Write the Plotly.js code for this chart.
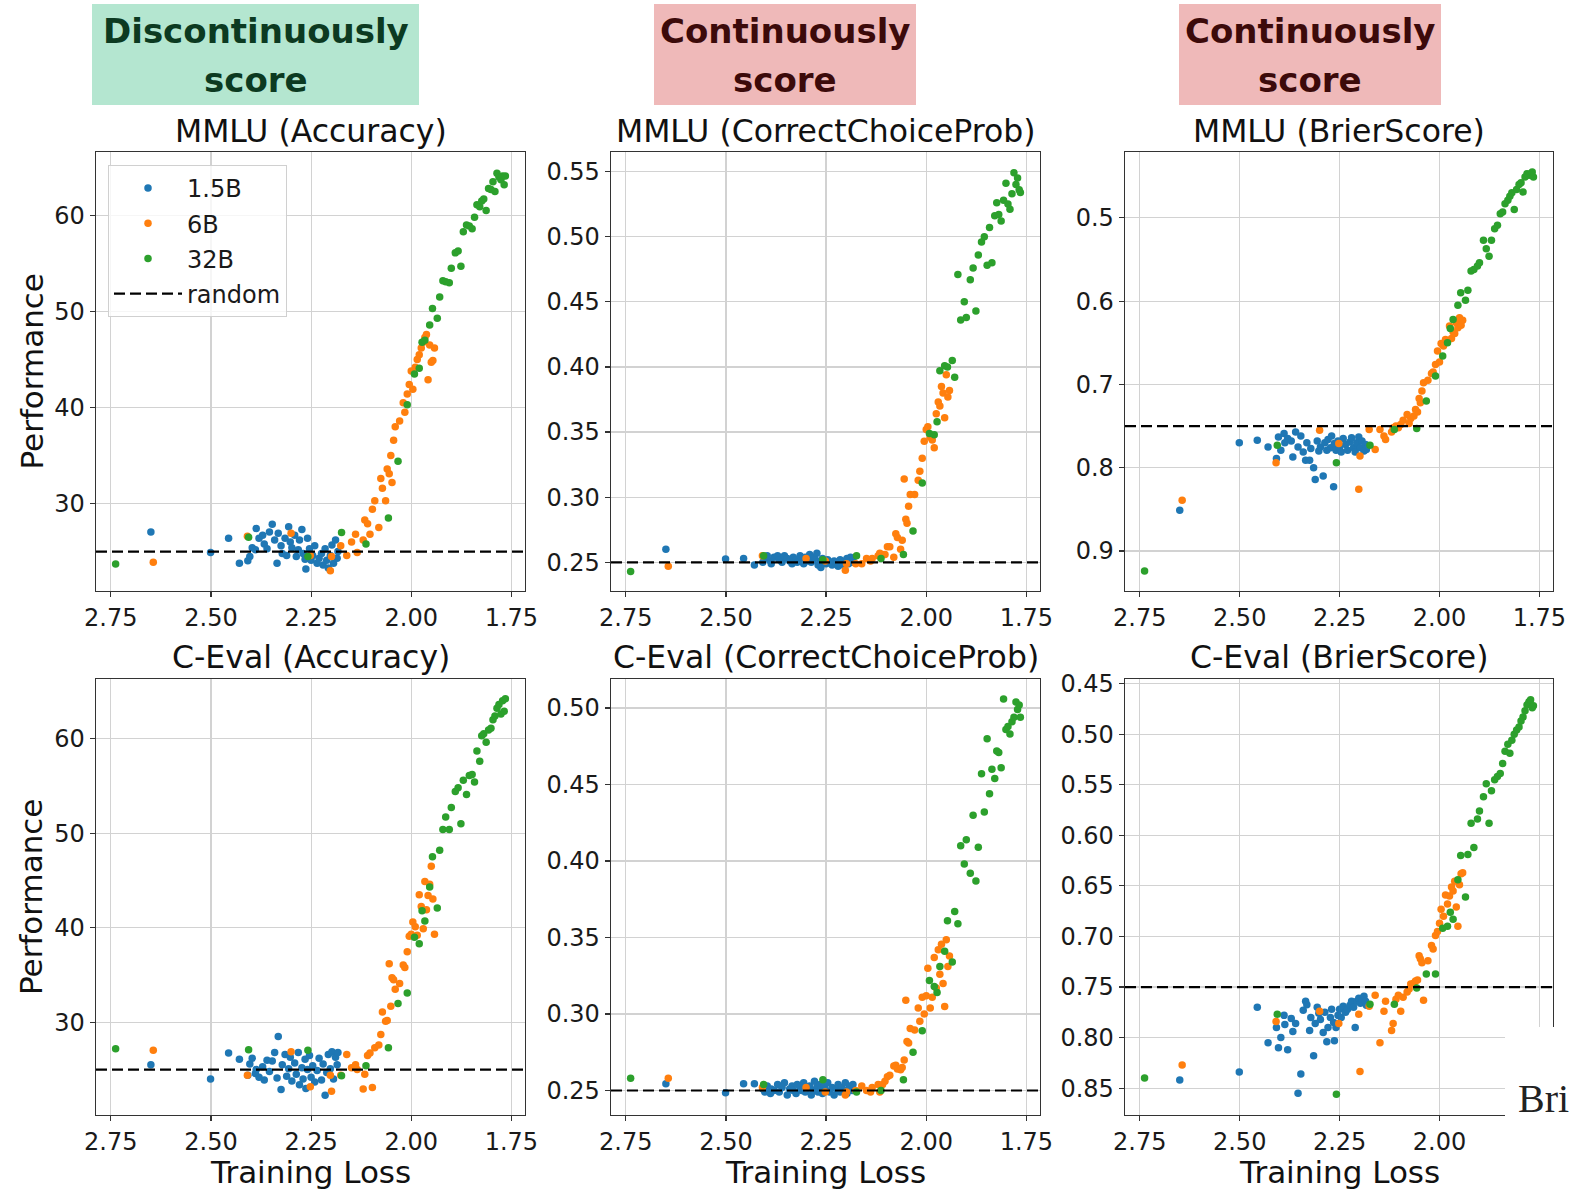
<!DOCTYPE html>
<html><head><meta charset="utf-8">
<script src="https://cdn.plot.ly/plotly-3.0.1.min.js"></script>
<style>html,body{margin:0;padding:0;background:#fff}#chart{width:1570px;height:1192px}</style>
</head><body><div id="chart"></div>
<script>
// ---------- data (training loss of checkpoints, shared by all panels) ----------
const loss15B = [2.650, 2.501, 2.456, 2.429, 2.408, 2.403, 2.397, 2.389, 2.387, 2.380,
 2.371, 2.367, 2.360, 2.354, 2.347, 2.341, 2.335, 2.332, 2.325, 2.322,
 2.315, 2.311, 2.306, 2.302, 2.298, 2.291, 2.287, 2.282, 2.279, 2.273,
 2.270, 2.265, 2.263, 2.259, 2.254, 2.250, 2.246, 2.241, 2.235, 2.230,
 2.224, 2.220, 2.215, 2.211, 2.207, 2.202, 2.198, 2.194, 2.189, 2.185, 2.183];
const loss6B = [2.644, 2.409, 2.300, 2.252, 2.202, 2.199, 2.176, 2.161, 2.149, 2.139,
 2.135, 2.120, 2.116, 2.109, 2.103, 2.097, 2.091, 2.081, 2.076, 2.072,
 2.064, 2.060, 2.055, 2.051, 2.048, 2.044, 2.040, 2.029, 2.020, 2.016,
 2.010, 2.005, 2.000, 1.996, 1.990, 1.985, 1.980, 1.975, 1.970, 1.966,
 1.962, 1.958, 1.954, 1.950, 1.946, 1.942];
const loss32B = [2.738, 2.406, 2.258, 2.174, 2.113, 2.057, 2.033, 2.010, 1.992, 1.980,
 1.973, 1.966, 1.954, 1.947, 1.935, 1.929, 1.921, 1.914, 1.905, 1.900,
 1.890, 1.883, 1.876, 1.870, 1.862, 1.855, 1.848, 1.842, 1.836, 1.829,
 1.824, 1.819, 1.813, 1.807, 1.801, 1.796, 1.791, 1.786, 1.781, 1.776,
 1.772, 1.768, 1.765];

// MMLU (Accuracy)
const mmluAcc15B = [27.05, 24.9, 26.4, 23.8, 24.05, 24.5, 25.4, 25.2, 27.4, 26.4,
 26.7, 25.8, 25.3, 27.05, 27.85, 26.2, 23.8, 26.9, 25.6, 24.8,
 26.4, 24.6, 27.6, 26.0, 25.4, 26.7, 24.5, 25.2, 26.2, 27.3,
 24.8, 24.2, 23.2, 26.4, 25.3, 24.1, 24.6, 25.6, 23.8, 24.3,
 24.8, 23.6, 25.3, 24.1, 23.3, 24.6, 25.7, 23.8, 26.2, 24.3, 25.0];
const mmluAcc6B = [23.9, 26.6, 26.9, 24.6, 23.0, 24.5, 25.6, 24.6, 26.0, 26.8,
 24.9, 26.2, 28.3, 27.9, 26.8, 29.4, 30.3, 27.5, 32.6, 31.6,
 30.3, 33.6, 33.1, 35.0, 32.2, 36.6, 38.0, 38.6, 40.5, 39.5,
 41.4, 42.4, 43.8, 41.9, 44.2, 45.0, 45.5, 46.2, 46.8, 47.3,
 47.6, 42.9, 46.5, 44.7, 44.9, 46.2];
const mmluAcc32B = [23.7, 26.5, 24.5, 27.0, 25.8, 28.5, 34.4, 40.3, 43.5, 44.1,
 46.8, 47.0, 48.6, 50.3, 49.3, 51.5, 53.2, 53.1, 53.0, 54.5,
 56.1, 56.3, 54.7, 58.3, 59.0, 58.9, 58.6, 59.8, 61.1, 60.9,
 61.5, 61.7, 60.5, 62.8, 62.7, 63.5, 62.5, 64.4, 64.0, 63.7,
 64.1, 63.2, 64.1];

// MMLU (CorrectChoiceProb)
const mmluCcp15B = [0.260, 0.2525, 0.253, 0.248, 0.250, 0.253, 0.255, 0.251, 0.249, 0.254,
 0.255, 0.252, 0.250, 0.255, 0.253, 0.251, 0.249, 0.254, 0.252, 0.250,
 0.255, 0.253, 0.249, 0.254, 0.251, 0.256, 0.250, 0.252, 0.254, 0.257,
 0.248, 0.251, 0.246, 0.253, 0.250, 0.249, 0.252, 0.250, 0.248, 0.251,
 0.249, 0.247, 0.252, 0.250, 0.248, 0.251, 0.253, 0.249, 0.254, 0.250, 0.252];
const mmluCcp6B = [0.247, 0.255, 0.253, 0.251, 0.244, 0.249, 0.249, 0.249, 0.253, 0.251,
 0.253, 0.255, 0.257, 0.256, 0.256, 0.262, 0.262, 0.254, 0.272, 0.269,
 0.260, 0.267, 0.314, 0.283, 0.280, 0.293, 0.302, 0.302, 0.313, 0.320,
 0.330, 0.343, 0.352, 0.354, 0.346, 0.344, 0.338, 0.364, 0.373, 0.370,
 0.385, 0.380, 0.361, 0.394, 0.377, 0.382];
const mmluCcp32B = [0.243, 0.255, 0.252, 0.255, 0.253, 0.256, 0.274, 0.311, 0.349, 0.348,
 0.358, 0.397, 0.401, 0.400, 0.405, 0.392, 0.471, 0.436, 0.450, 0.438,
 0.467, 0.476, 0.443, 0.486, 0.496, 0.500, 0.478, 0.507, 0.480, 0.516,
 0.526, 0.517, 0.512, 0.528, 0.541, 0.525, 0.521, 0.533, 0.549, 0.540,
 0.545, 0.536, 0.534];

// MMLU (BrierScore)
const mmluBrier15B = [0.851, 0.770, 0.767, 0.775, 0.789, 0.763, 0.779, 0.759, 0.770, 0.765,
 0.768, 0.787, 0.757, 0.775, 0.762, 0.781, 0.791, 0.770, 0.791, 0.777,
 0.800, 0.814, 0.768, 0.780, 0.775, 0.810, 0.770, 0.779, 0.766, 0.776,
 0.762, 0.823, 0.771, 0.779, 0.768, 0.776, 0.781, 0.765, 0.772, 0.779,
 0.769, 0.764, 0.776, 0.781, 0.770, 0.763, 0.776, 0.768, 0.780, 0.772, 0.778];
const mmluBrier6B = [0.839, 0.794, 0.755, 0.771, 0.826, 0.786, 0.754, 0.778, 0.754, 0.762,
 0.766, 0.757, 0.752, 0.750, 0.752, 0.748, 0.743, 0.736, 0.747, 0.741,
 0.738, 0.730, 0.733, 0.717, 0.722, 0.708, 0.698, 0.695, 0.687, 0.685,
 0.676, 0.660, 0.673, 0.651, 0.654, 0.646, 0.648, 0.630, 0.645, 0.637,
 0.639, 0.626, 0.632, 0.620, 0.629, 0.623];
const mmluBrier32B = [0.924, 0.773, 0.794, 0.773, 0.754, 0.753, 0.720, 0.690, 0.666, 0.650,
 0.633, 0.622, 0.605, 0.590, 0.599, 0.587, 0.564, 0.562, 0.558, 0.554,
 0.527, 0.537, 0.546, 0.527, 0.513, 0.509, 0.495, 0.493, 0.483, 0.479,
 0.474, 0.470, 0.490, 0.466, 0.460, 0.458, 0.469, 0.451, 0.447, 0.449,
 0.447, 0.445, 0.451];

// C-Eval (Accuracy)
const cevalAcc15B = [25.5, 24.0, 26.75, 26.1, 24.4, 25.6, 26.2, 24.6, 25.0, 24.2,
 25.3, 23.9, 26.0, 24.8, 25.9, 26.8, 24.1, 28.5, 22.9, 25.5,
 26.6, 24.3, 25.1, 26.3, 23.8, 25.7, 24.5, 26.8, 23.4, 25.2,
 24.0, 26.1, 23.0, 25.0, 26.5, 24.2, 25.4, 23.7, 24.9, 26.2,
 23.9, 25.6, 22.3, 24.7, 26.6, 25.1, 26.9, 24.0, 26.3, 25.5, 26.8];
const cevalAcc6B = [27.05, 24.4, 26.9, 23.2, 24.4, 22.7, 24.4, 26.6, 25.2, 25.5,
 25.0, 22.95, 24.5, 26.5, 26.75, 23.1, 27.3, 27.6, 28.7, 31.1,
 30.1, 30.2, 36.2, 31.7, 34.7, 34.5, 33.5, 34.1, 36.05, 35.8,
 37.45, 39.1, 39.3, 40.6, 40.1, 39.2, 43.5, 42.25, 39.9, 44.9,
 41.9, 43.4, 44.6, 46.5, 43.05, 39.3];
const cevalAcc32B = [27.2, 27.1, 27.05, 24.35, 25.4, 27.3, 32.0, 33.1, 39.0, 38.3,
 41.8, 40.7, 44.3, 47.5, 42.1, 48.2, 50.4, 51.7, 50.4, 52.7,
 54.4, 54.8, 51.0, 55.6, 54.1, 56.1, 56.2, 55.4, 58.7, 57.6,
 60.3, 60.5, 59.6, 60.9, 61.1, 62.0, 62.4, 63.2, 63.6, 62.6,
 64.0, 62.9, 64.2];

// C-Eval (CorrectChoiceProb)
const cevalCcp15B = [0.2545, 0.2486, 0.2545, 0.2545, 0.251, 0.249, 0.253, 0.248, 0.251, 0.250,
 0.254, 0.249, 0.252, 0.255, 0.247, 0.251, 0.253, 0.250, 0.248, 0.254,
 0.252, 0.250, 0.255, 0.249, 0.251, 0.253, 0.247, 0.250, 0.256, 0.252,
 0.249, 0.254, 0.251, 0.248, 0.253, 0.250, 0.255, 0.249, 0.252, 0.247,
 0.251, 0.254, 0.249, 0.252, 0.250, 0.255, 0.248, 0.251, 0.253, 0.250, 0.254];
const cevalCcp6B = [0.258, 0.252, 0.252, 0.249, 0.247, 0.249, 0.250, 0.253, 0.250, 0.249,
 0.252, 0.254, 0.249, 0.254, 0.256, 0.259, 0.260, 0.266, 0.2665, 0.264,
 0.2635, 0.265, 0.270, 0.309, 0.282, 0.281, 0.2905, 0.2895, 0.304, 0.2953,
 0.311, 0.300, 0.312, 0.330, 0.304, 0.311, 0.337, 0.317, 0.342, 0.326,
 0.3456, 0.320, 0.305, 0.3486, 0.331, 0.338];
const cevalCcp32B = [0.258, 0.254, 0.257, 0.249, 0.250, 0.257, 0.275, 0.289, 0.322, 0.318,
 0.314, 0.331, 0.341, 0.361, 0.334, 0.367, 0.359, 0.410, 0.398, 0.414,
 0.392, 0.430, 0.387, 0.409, 0.457, 0.432, 0.480, 0.444, 0.460, 0.454,
 0.472, 0.471, 0.461, 0.506, 0.486, 0.488, 0.483, 0.491, 0.494, 0.504,
 0.499, 0.502, 0.494];

// C-Eval (BrierScore)
const cevalBrier15B = [0.842, 0.834, 0.770, 0.805, 0.790, 0.810, 0.800, 0.778, 0.787, 0.812,
 0.781, 0.794, 0.786, 0.855, 0.836, 0.773, 0.764, 0.7675, 0.793, 0.780,
 0.818, 0.786, 0.770, 0.776, 0.782, 0.795, 0.775, 0.804, 0.790, 0.780,
 0.772, 0.785, 0.803, 0.790, 0.778, 0.772, 0.780, 0.769, 0.775, 0.772,
 0.768, 0.764, 0.770, 0.790, 0.764, 0.761, 0.766, 0.762, 0.759, 0.764, 0.768];
const cevalBrier6B = [0.827, 0.784, 0.774, 0.786, 0.777, 0.8335, 0.769, 0.758, 0.805, 0.774,
 0.764, 0.793, 0.786, 0.762, 0.758, 0.774, 0.760, 0.755, 0.752, 0.747,
 0.746, 0.744, 0.743, 0.719, 0.722, 0.726, 0.763, 0.724, 0.709, 0.7125,
 0.699, 0.695, 0.687, 0.673, 0.680, 0.659, 0.668, 0.660, 0.651, 0.655,
 0.6455, 0.671, 0.690, 0.649, 0.638, 0.637];
const cevalBrier32B = [0.840, 0.777, 0.856, 0.767, 0.767, 0.751, 0.737, 0.737, 0.692, 0.690,
 0.676, 0.683, 0.644, 0.620, 0.661, 0.619, 0.588, 0.612, 0.584, 0.576,
 0.562, 0.549, 0.588, 0.556, 0.545, 0.542, 0.539, 0.529, 0.517, 0.510,
 0.519, 0.506, 0.500, 0.496, 0.493, 0.487, 0.483, 0.477, 0.471, 0.468,
 0.466, 0.474, 0.472];

const modelNames = ['1.5B', '6B', '32B'];
const panelTitles = ['MMLU (Accuracy)', 'MMLU (CorrectChoiceProb)', 'MMLU (BrierScore)',
                     'C-Eval (Accuracy)', 'C-Eval (CorrectChoiceProb)', 'C-Eval (BrierScore)'];
const randomLevel = [25, 0.25, 0.75, 25, 0.25, 0.75];
const headerTexts = [['Discontinuously', 'score'], ['Continuously', 'score'], ['Continuously', 'score']];
const xTickVals = [2.75, 2.50, 2.25, 2.00, 1.75];

// ---------- styling / layout ----------
const W = 1570, H = 1192;
const colors = ['#1f77b4', '#ff7f0e', '#2ca02c'];
const losses = [loss15B, loss6B, loss32B];
const panelValues = [
  [mmluAcc15B, mmluAcc6B, mmluAcc32B],
  [mmluCcp15B, mmluCcp6B, mmluCcp32B],
  [mmluBrier15B, mmluBrier6B, mmluBrier32B],
  [cevalAcc15B, cevalAcc6B, cevalAcc32B],
  [cevalCcp15B, cevalCcp6B, cevalCcp32B],
  [cevalBrier15B, cevalBrier6B, cevalBrier32B]
];
const colPx = [[96, 525], [611, 1040], [1125, 1553]];
const rowPx = [[152, 591], [679, 1115]];
const yRanges = [[20.9, 66.6], [0.228, 0.565], [0.948, 0.421], [20.2, 66.3], [0.234, 0.519], [0.8765, 0.4455]];
const yDtick = [10, 0.05, 0.1, 10, 0.05, 0.05];
const yFmt = ['d', '.2f', '.1f', 'd', '.2f', '.2f'];
const xRange = [2.787, 1.716];
const FONT = 'DejaVu Sans';
const TICK = 24, TITLE = 31.5, AXT = 31;

const px = v => v / W;
const py = v => 1 - v / H;

const traces = [];
const layout = {
  width: W, height: H, autosize: false,
  margin: {l: 0, r: 0, t: 0, b: 0},
  paper_bgcolor: '#ffffff', plot_bgcolor: '#ffffff',
  font: {family: FONT, size: TICK, color: '#1a1a1a'},
  showlegend: true,
  legend: {
    x: px(108), y: py(165), xanchor: 'left', yanchor: 'top',
    bgcolor: 'rgba(255,255,255,0.8)', bordercolor: '#d0d0d0', borderwidth: 1,
    font: {family: FONT, size: 24, color: '#1a1a1a'},
    traceorder: 'grouped', tracegroupgap: 1, itemwidth: 68
  },
  shapes: [], annotations: []
};

for (let p = 0; p < 6; p++) {
  const r = Math.floor(p / 3), c = p % 3;
  const suf = p === 0 ? '' : String(p + 1);
  layout['xaxis' + suf] = {
    domain: [px(colPx[c][0]), px(colPx[c][1])],
    anchor: 'y' + suf,
    range: xRange, autorange: false,
    tickmode: 'array', tickvals: xTickVals, tickformat: '.2f',
    ticks: 'outside', ticklen: 5, tickwidth: 1.2, tickcolor: '#333',
    tickfont: {family: FONT, size: TICK, color: '#1a1a1a'},
    showgrid: true, gridcolor: '#d2d2d2', gridwidth: 1.2, zeroline: false,
    showline: true, mirror: true, linecolor: '#333', linewidth: 1.3
  };
  layout['yaxis' + suf] = {
    domain: [py(rowPx[r][1]), py(rowPx[r][0])],
    anchor: 'x' + suf,
    range: yRanges[p], autorange: false,
    tickmode: 'linear', tick0: 0, dtick: yDtick[p], tickformat: yFmt[p],
    ticks: 'outside', ticklen: 5, tickwidth: 1.2, tickcolor: '#333',
    tickfont: {family: FONT, size: TICK, color: '#1a1a1a'},
    showgrid: true, gridcolor: '#d2d2d2', gridwidth: 1.2, zeroline: false,
    showline: true, mirror: true, linecolor: '#333', linewidth: 1.3
  };
  for (let m = 0; m < 3; m++) {
    traces.push({
      type: 'scatter', mode: 'markers',
      x: losses[m], y: panelValues[p][m],
      xaxis: 'x' + suf, yaxis: 'y' + suf,
      name: modelNames[m], legendgroup: 'g' + m,
      showlegend: p === 0,
      marker: {color: colors[m], size: 7.5, line: {width: 0}},
      hoverinfo: 'skip'
    });
  }
  layout.shapes.push({
    type: 'line', xref: 'x' + suf + ' domain', x0: 0, x1: 1,
    yref: 'y' + suf, y0: randomLevel[p], y1: randomLevel[p],
    line: {color: '#000000', width: 2.2, dash: '11px,5px'},
    layer: 'above',
    showlegend: p === 0, name: 'random', legendgroup: 'grand', legendrank: 2000
  });
  // panel title
  layout.annotations.push({
    xref: 'paper', yref: 'paper',
    x: px((colPx[c][0] + colPx[c][1]) / 2), y: py(r === 0 ? 131 : 657),
    xanchor: 'center', yanchor: 'middle', showarrow: false,
    text: panelTitles[p], font: {family: FONT, size: TITLE, color: '#111'}
  });
  if (r === 1) {
    layout.annotations.push({
      xref: 'paper', yref: 'paper',
      x: px((colPx[c][0] + colPx[c][1]) / 2), y: py(1172),
      xanchor: 'center', yanchor: 'middle', showarrow: false,
      text: 'Training Loss', font: {family: FONT, size: AXT, color: '#111'}
    });
  }
  if (c === 0) {
    layout.annotations.push({
      xref: 'paper', yref: 'paper',
      x: px(31), y: py((rowPx[r][0] + rowPx[r][1]) / 2),
      xanchor: 'center', yanchor: 'middle', showarrow: false, textangle: -90,
      text: 'Performance', font: {family: FONT, size: AXT, color: '#111'}
    });
  }
}

// header boxes
const headerBoxes = [[92, 419], [654, 916], [1179, 1441]];
const headerFill = ['#b4e6d0', '#efb9b9', '#efb9b9'];
const headerInk = ['#0c3a21', '#3c0a0a', '#3c0a0a'];
for (let h = 0; h < 3; h++) {
  layout.shapes.push({
    type: 'rect', xref: 'paper', yref: 'paper',
    x0: px(headerBoxes[h][0]), x1: px(headerBoxes[h][1]), y0: py(105), y1: py(4),
    fillcolor: headerFill[h], line: {width: 0}, layer: 'below'
  });
  const cx = px((headerBoxes[h][0] + headerBoxes[h][1]) / 2);
  layout.annotations.push({
    xref: 'paper', yref: 'paper', x: cx, y: py(31), xanchor: 'center', yanchor: 'middle',
    showarrow: false, text: '<b>' + headerTexts[h][0] + '</b>',
    font: {family: 'DejaVu Sans', size: 34, color: headerInk[h]}
  });
  layout.annotations.push({
    xref: 'paper', yref: 'paper', x: cx, y: py(80), xanchor: 'center', yanchor: 'middle',
    showarrow: false, text: '<b>' + headerTexts[h][1] + '</b>',
    font: {family: 'DejaVu Sans', size: 34, color: headerInk[h]}
  });
}

// cropped corner of the source figure (white patch with partial neighbour text)
layout.shapes.push({
  type: 'rect', xref: 'paper', yref: 'paper',
  x0: px(1505), x1: 1, y0: 0, y1: py(1027),
  fillcolor: '#ffffff', line: {width: 0}, layer: 'above'
});
layout.annotations.push({
  xref: 'paper', yref: 'paper', x: px(1516), y: py(1098), xanchor: 'left', yanchor: 'middle',
  showarrow: false, text: 'Bri', font: {family: 'Liberation Serif', size: 40, color: '#222'}
});

Plotly.newPlot('chart', traces, layout, {displayModeBar: false, staticPlot: true});
</script>
</body></html>
